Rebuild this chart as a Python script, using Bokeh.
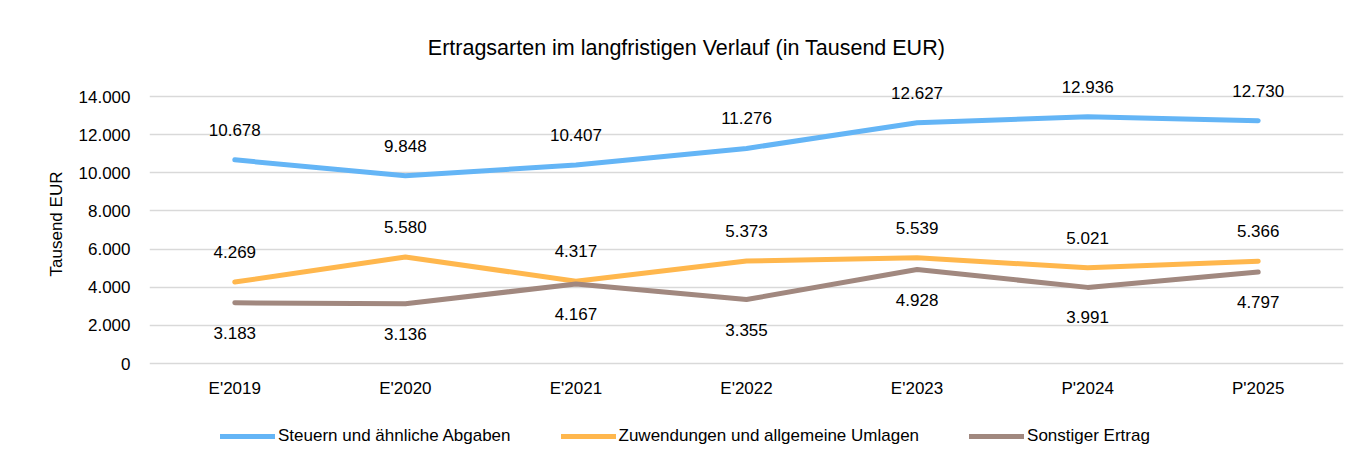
from bokeh.plotting import figure
from bokeh.models import (ColumnDataSource, LabelSet, Label, Legend, LegendItem,
                          FixedTicker, CustomJSTickFormatter, Range1d)
from bokeh.core.properties import value
from bokeh.embed import file_html
from bokeh.resources import INLINE

categories = ["E'2019", "E'2020", "E'2021", "E'2022", "E'2023", "P'2024", "P'2025"]
steuern = [10678, 9848, 10407, 11276, 12627, 12936, 12730]
zuwendungen = [4269, 5580, 4317, 5373, 5539, 5021, 5366]
sonstiger = [3183, 3136, 4167, 3355, 4928, 3991, 4797]
y_ticks = [0, 2000, 4000, 6000, 8000, 10000, 12000, 14000]

series_names = ["Steuern und ähnliche Abgaben", "Zuwendungen und allgemeine Umlagen", "Sonstiger Ertrag"]
colors = ["#64B5F6", "#FFB74D", "#A1887F"]

FONT = "Liberation Sans"

# layout geometry (pixels)
FRAME_H = 447
Y_TOP_PX = 96      # where 14000 sits
Y_ZERO_PX = 363    # where 0 sits
scale = (Y_ZERO_PX - Y_TOP_PX) / 14000.0
y_start = -(FRAME_H - Y_ZERO_PX) / scale
y_end = 14000 + Y_TOP_PX / scale


def fmt(v):
    return f"{v:,}".replace(",", ".")


p = figure(x_range=categories, y_range=Range1d(y_start, y_end),
           frame_width=1194, frame_height=FRAME_H,
           output_backend="svg", toolbar_location=None,
           min_border_left=149, min_border_right=3, min_border_top=0, min_border_bottom=0)
p.outline_line_color = None
p.background_fill_color = "white"
p.border_fill_color = "white"

# y axis
p.yaxis.ticker = FixedTicker(ticks=y_ticks)
p.yaxis.formatter = CustomJSTickFormatter(code="""
    return tick.toFixed(0).replace(/\\B(?=(\\d{3})+(?!\\d))/g, '.');
""")
yax = p.yaxis[0]
yax.axis_line_color = None
yax.major_tick_line_color = None
yax.minor_tick_line_color = None
yax.major_tick_out = 0
yax.major_tick_in = 0
yax.major_label_text_font = FONT
yax.major_label_text_font_size = "17px"
yax.major_label_text_color = "#000000"
yax.major_label_standoff = 19
yax.axis_label = "Tausend EUR"
yax.axis_label_text_font = FONT
yax.axis_label_text_font_size = "17px"
yax.axis_label_text_font_style = "normal"
yax.axis_label_text_color = "#000000"
yax.axis_label_standoff = 10

p.xaxis.visible = False

p.xgrid.grid_line_color = None
p.ygrid.ticker = FixedTicker(ticks=y_ticks)
p.ygrid.grid_line_color = "#D9D9D9"
p.ygrid.grid_line_width = 1.5

# category labels under the zero line
cat_src = ColumnDataSource(dict(x=categories, y=[0] * len(categories), t=categories))
p.add_layout(LabelSet(x="x", y="y", text="t", source=cat_src, y_offset=-25,
                      text_align="center", text_baseline="middle",
                      text_font=value(FONT), text_font_size="17px", text_color="#000000"))

all_series = [steuern, zuwendungen, sonstiger]
offsets = [30, 30, -30]
items = []
for name, vals, col, off in zip(series_names, all_series, colors, offsets):
    src = ColumnDataSource(dict(x=categories, y=vals, t=[fmt(v) for v in vals]))
    r = p.line("x", "y", source=src, line_color=col, line_width=5,
               line_cap="round", line_join="round")
    items.append(LegendItem(label=name, renderers=[r]))
    ls = LabelSet(x="x", y="y", text="t", source=src, y_offset=off,
                  text_align="center", text_baseline="middle",
                  text_font=value(FONT), text_font_size="17px", text_color="#000000")
    p.add_layout(ls)

legend = Legend(items=items, orientation="horizontal", location=(71, 1),
                glyph_width=55, glyph_height=20, label_height=20, label_standoff=3,
                spacing=50, padding=0, margin=0,
                label_text_font=FONT, label_text_font_size="17px",
                label_text_color="#000000",
                border_line_color=None, background_fill_alpha=0)
p.add_layout(legend, "center")

title = Label(x=537, y=FRAME_H - 47, x_units="screen", y_units="screen",
              text="Ertragsarten im langfristigen Verlauf (in Tausend EUR)",
              text_align="center", text_baseline="middle",
              text_font=FONT, text_font_size="21.5px", text_color="#000000")
p.add_layout(title)

open("out.html", "w").write(file_html(p, INLINE))
